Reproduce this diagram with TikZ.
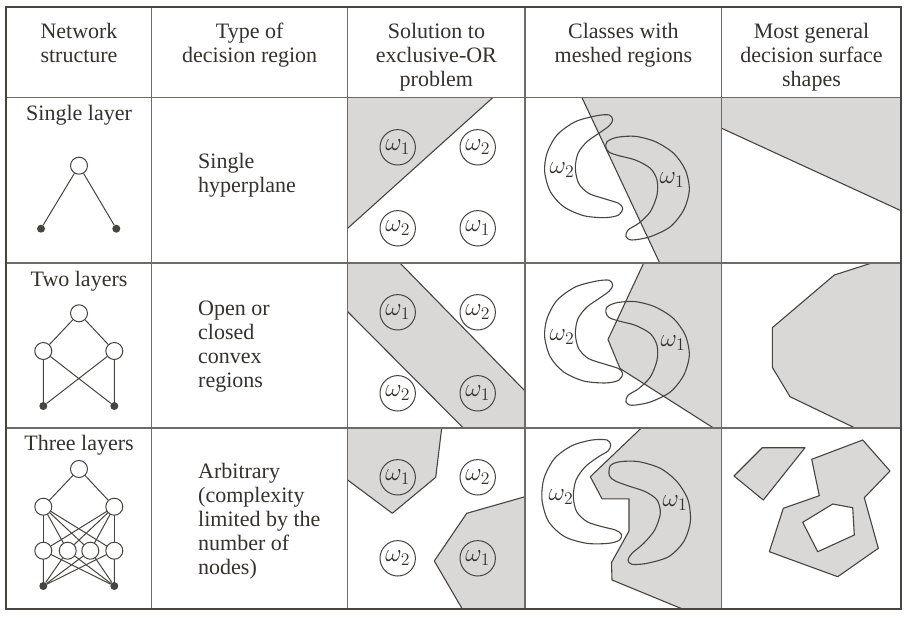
\RequirePackage{fix-cm}
\documentclass[tikz,border=0pt]{standalone}
\usepackage{graphicx}
\usepackage{fontspec}
\setmainfont{Liberation Serif}
\usetikzlibrary{backgrounds}
\definecolor{ink}{HTML}{48443F}
\definecolor{shade}{HTML}{D9D8D6}
\definecolor{txt}{HTML}{35312D}
\definecolor{gridc}{HTML}{6E6A65}
\newcommand{\om}[1]{\scalebox{1.15}{$\omega_{#1}$}}
\begin{document}
\begin{tikzpicture}[x=1pt,y=-1pt,
  lbl/.style={anchor=base,inner sep=0pt,text=txt,font=\fontsize{22}{24}\selectfont},
  lbll/.style={lbl,anchor=base west},
  sym/.style={inner sep=0pt,text=txt,font=\fontsize{22}{24}\selectfont},
  neuron/.style={circle,draw=ink,fill=white,line width=1pt,minimum size=17pt,inner sep=0pt},
  inp/.style={circle,fill=ink,minimum size=8pt,inner sep=0pt},
  link/.style={draw=ink,line width=1pt},
  cls/.style={circle,draw=ink,line width=1pt,minimum size=35.4pt,inner sep=0pt,text=txt,font=\fontsize{22}{24}\selectfont},
  region/.style={fill=shade},
  bound/.style={draw=ink,line width=1.1pt,line join=round},
  blob/.style={draw=ink,line width=1.1pt},
  gridline/.style={draw=gridc,line width=1.1pt},
]
\useasboundingbox (0,0) rectangle (910,618);
\begin{pgfonlayer}{background}
\fill[white] (0,0) rectangle (910,618);
\end{pgfonlayer}

% ---------- shaded regions ----------
% XOR column
\fill[region] (347.7,97.7) -- (492.7,97.7) -- (347.7,228.3) -- cycle;
\draw[bound] (492.7,97.7) -- (347.7,228.3);
\fill[region] (347.7,263) -- (400,263) -- (525,391) -- (525,428) -- (463.3,428) -- (347.7,311.7) -- cycle;
\draw[bound] (400,263) -- (525,391);
\draw[bound] (347.7,311.7) -- (463.3,428);
\fill[region] (347.7,428) -- (441.7,428) -- (435.7,477.3) -- (392.3,513.3) -- (347.7,480) -- cycle;
\draw[bound] (441.7,428) -- (435.7,477.3) -- (392.3,513.3) -- (347.7,480);
\fill[region] (525,496.7) -- (466.7,513.3) -- (434.3,561) -- (462.3,609) -- (525,609) -- cycle;
\draw[bound] (525,496.7) -- (466.7,513.3) -- (434.3,561) -- (462.3,609);
% meshed column
\fill[region] (582,97.7) -- (721.7,97.7) -- (721.7,263) -- (659.7,263) -- cycle;
\draw[bound] (582,97.7) -- (659.7,263);
\fill[region] (643.7,263) -- (721.7,263) -- (721.7,428) -- (713.5,428) -- (620,368.5) -- (608,339.5) -- cycle;
\draw[bound] (643.7,263) -- (608,339.5) -- (620,368.5) -- (713.5,428);
\fill[region] (641.3,428) -- (721.7,428) -- (721.7,609) -- (682.5,609) -- (612,580) -- (611.5,562.5) -- (629,531) -- (629,498.8) -- (602,498.8) -- (590.3,476.7) -- cycle;
\draw[bound] (641.3,428) -- (590.3,476.7) -- (602,498.8) -- (629,498.8) -- (629,531) -- (611.5,562.5) -- (612,580) -- (682.5,609);
% general column
\fill[region] (721.7,97.7) -- (901,97.7) -- (901,210.7) -- (721.7,128.3) -- cycle;
\draw[bound] (721.7,128.3) -- (901,210.7);
\fill[region] (871.7,263) -- (834.3,275) -- (772.3,327.7) -- (772.3,367.3) -- (790,396.7) -- (855,428) -- (901,428) -- (901,263) -- cycle;
\draw[bound] (871.7,263) -- (834.3,275) -- (772.3,327.7) -- (772.3,367.3) -- (790,396.7) -- (855,428);
\filldraw[region,bound] (762.3,447.7) -- (805,447.7) -- (763.3,500) -- (734,476) -- cycle;
\filldraw[region,bound,even odd rule] (811.7,459.3) -- (862.7,440) -- (890,471) -- (864.3,497.7) -- (878.3,548.3) -- (837.7,576.7) -- (769.3,551.7) -- (783.3,508.3) -- (819.3,495.7) -- cycle
  (832.7,504) -- (852.7,507.7) -- (854.3,535) -- (817.7,551.7) -- (802.7,522.3) -- cycle;

% ---------- meshed crescents ----------
\begin{scope}[shift={(522,95)},scale=1/3]
\draw[blob] plot[smooth cycle] coordinates {(262,60) (225,62) (160,80) (105,120) (75,175) (68,230) (85,290) (125,335) (185,362) (250,368) (290,360) (302,340) (290,325) (250,312) (200,295) (170,265) (160,220) (168,175) (195,140) (235,112) (262,92) (272,75)};
\draw[blob] plot[smooth cycle] coordinates {(255,140) (285,127) (340,124) (400,140) (455,175) (490,225) (502,285) (485,345) (445,395) (385,425) (330,435) (312,425) (318,405) (350,385) (385,350) (405,300) (405,255) (385,220) (340,195) (290,182) (262,172) (252,158)};
\end{scope}
\begin{scope}[shift={(522,260.3)},scale=1/3]
\draw[blob] plot[smooth cycle] coordinates {(262,60) (225,62) (160,80) (105,120) (75,175) (68,230) (85,290) (125,335) (185,362) (250,368) (290,360) (302,340) (290,325) (250,312) (200,295) (170,265) (160,220) (168,175) (195,140) (235,112) (262,92) (272,75)};
\draw[blob] plot[smooth cycle] coordinates {(255,140) (285,127) (340,124) (400,140) (455,175) (490,225) (502,285) (485,345) (445,395) (385,425) (330,435) (312,425) (318,405) (350,385) (385,350) (405,300) (405,255) (385,220) (340,195) (290,182) (262,172) (252,158)};
\end{scope}
\begin{scope}[shift={(522,425)},scale=1/3]
\draw[blob] plot[smooth cycle] coordinates {(255,45) (210,45) (150,62) (98,100) (66,160) (60,225) (80,290) (128,335) (195,355) (260,355) (293,345) (298,328) (280,315) (240,305) (195,290) (164,260) (154,215) (162,165) (190,125) (230,95) (258,78) (266,60)};
\draw[blob] plot[smooth cycle] coordinates {(265,122) (295,110) (350,110) (415,130) (465,170) (498,225) (505,290) (485,350) (440,395) (375,415) (330,418) (318,405) (330,385) (365,355) (398,315) (415,265) (405,225) (370,200) (320,183) (280,168) (262,152)};
\end{scope}
\node[sym] (m1a) at (562,170) {\om{2}};
\node[sym] (m1b) at (672,180) {\om{1}};
\node[sym] (m2a) at (562,336.7) {\om{2}};
\node[sym] (m2b) at (673,343.3) {\om{1}};
\node[sym] (m3a) at (561,496.7) {\om{2}};
\node[sym] (m3b) at (675,503.3) {\om{1}};

% ---------- XOR class circles ----------
\node[cls] (x1a) at (397.7,147.3) {\om{1}};
\node[cls] (x1b) at (477.7,147.3) {\om{2}};
\node[cls] (x1c) at (397.7,228.3) {\om{2}};
\node[cls] (x1d) at (477.7,228.3) {\om{1}};
\node[cls] (x2a) at (397.7,312.3) {\om{1}};
\node[cls] (x2b) at (477.7,312.3) {\om{2}};
\node[cls] (x2c) at (397.7,393.3) {\om{2}};
\node[cls] (x2d) at (477.7,393.3) {\om{1}};
\node[cls] (x3a) at (397.7,477.3) {\om{1}};
\node[cls] (x3b) at (477.7,477.3) {\om{2}};
\node[cls] (x3c) at (397.7,558.3) {\om{2}};
\node[cls] (x3d) at (477.7,558.3) {\om{1}};

% ---------- networks ----------
\node[neuron] (s0) at (79,165.7) {};
\node[inp] (sa) at (41,228.7) {};
\node[inp] (sb) at (116.3,228.7) {};
\node[neuron] (t0) at (79,313.3) {};
\node[neuron] (tm1) at (43.3,351) {};
\node[neuron] (tm2) at (114.3,351) {};
\node[inp] (ta) at (43.3,406) {};
\node[inp] (tb) at (114.3,406) {};
\node[neuron] (r0) at (79,469) {};
\node[neuron] (rs1) at (43.3,506.7) {};
\node[neuron] (rs2) at (114.3,506.7) {};
\node[neuron] (rh1) at (43.3,550.7) {};
\node[neuron] (rh2) at (67.7,550.7) {};
\node[neuron] (rh3) at (90.3,550.7) {};
\node[neuron] (rh4) at (114.3,550.7) {};
\node[inp] (ra) at (43.3,586) {};
\node[inp] (rb) at (114.3,586) {};
\begin{pgfonlayer}{background}
\draw[link] (s0) -- (sa) (s0) -- (sb);
\draw[link] (t0) -- (tm1) (t0) -- (tm2) (tm1) -- (ta) (tm1) -- (tb) (tm2) -- (ta) (tm2) -- (tb);
\draw[link] (r0) -- (rs1) (r0) -- (rs2);
\foreach \s in {rs1,rs2}{\foreach \h in {rh1,rh2,rh3,rh4}{\draw[link] (\s.center) -- (\h.center);}}
\foreach \h in {rh1,rh2,rh3,rh4}{\draw[link] (\h.center) -- (ra) (\h.center) -- (rb);}
\end{pgfonlayer}

% ---------- texts ----------
\node[lbl] (h1a) at (79,39) {Network};
\node[lbl] (h1b) at (79,62.7) {structure};
\node[lbl] (h2a) at (249.7,39) {Type of};
\node[lbl] (h2b) at (249.7,62.7) {decision region};
\node[lbl] (h3a) at (436.4,39) {Solution to};
\node[lbl] (h3b) at (436.4,62.7) {exclusive-OR};
\node[lbl] (h3c) at (436.4,86) {problem};
\node[lbl] (h4a) at (623.4,39) {Classes with};
\node[lbl] (h4b) at (623.4,62.7) {meshed regions};
\node[lbl] (h5a) at (811.5,39) {Most general};
\node[lbl] (h5b) at (811.5,62.7) {decision surface};
\node[lbl] (h5c) at (811.5,86) {shapes};

\node[lbl] (r1) at (79,120.7) {Single layer};
\node[lbl] (r2) at (79,286.7) {Two layers};
\node[lbl] (r3) at (79,450.7) {Three layers};

\node[lbll] (d1a) at (198,168.3) {Single};
\node[lbll] (d1b) at (198,192.3) {hyperplane};
\node[lbll] (d2a) at (198,315) {Open or};
\node[lbll] (d2b) at (198,339) {closed};
\node[lbll] (d2c) at (198,363) {convex};
\node[lbll] (d2d) at (198,387) {regions};
\node[lbll] (d3a) at (198,478.3) {Arbitrary};
\node[lbll] (d3b) at (198,502.3) {(complexity};
\node[lbll] (d3c) at (198,526.3) {limited by the};
\node[lbll] (d3d) at (198,550.3) {number of};
\node[lbll] (d3e) at (198,574.3) {nodes)};

% ---------- grid ----------
\foreach \xx in {151.7,347.7,525,721.7}{\draw[gridline] (\xx,7) -- (\xx,609);}
\foreach \yy in {97.7,263,428}{\draw[gridline] (6,\yy) -- (901,\yy);}
\draw[draw=ink,line width=2.6pt] (6,7) rectangle (901,609);
\end{tikzpicture}
\end{document}
